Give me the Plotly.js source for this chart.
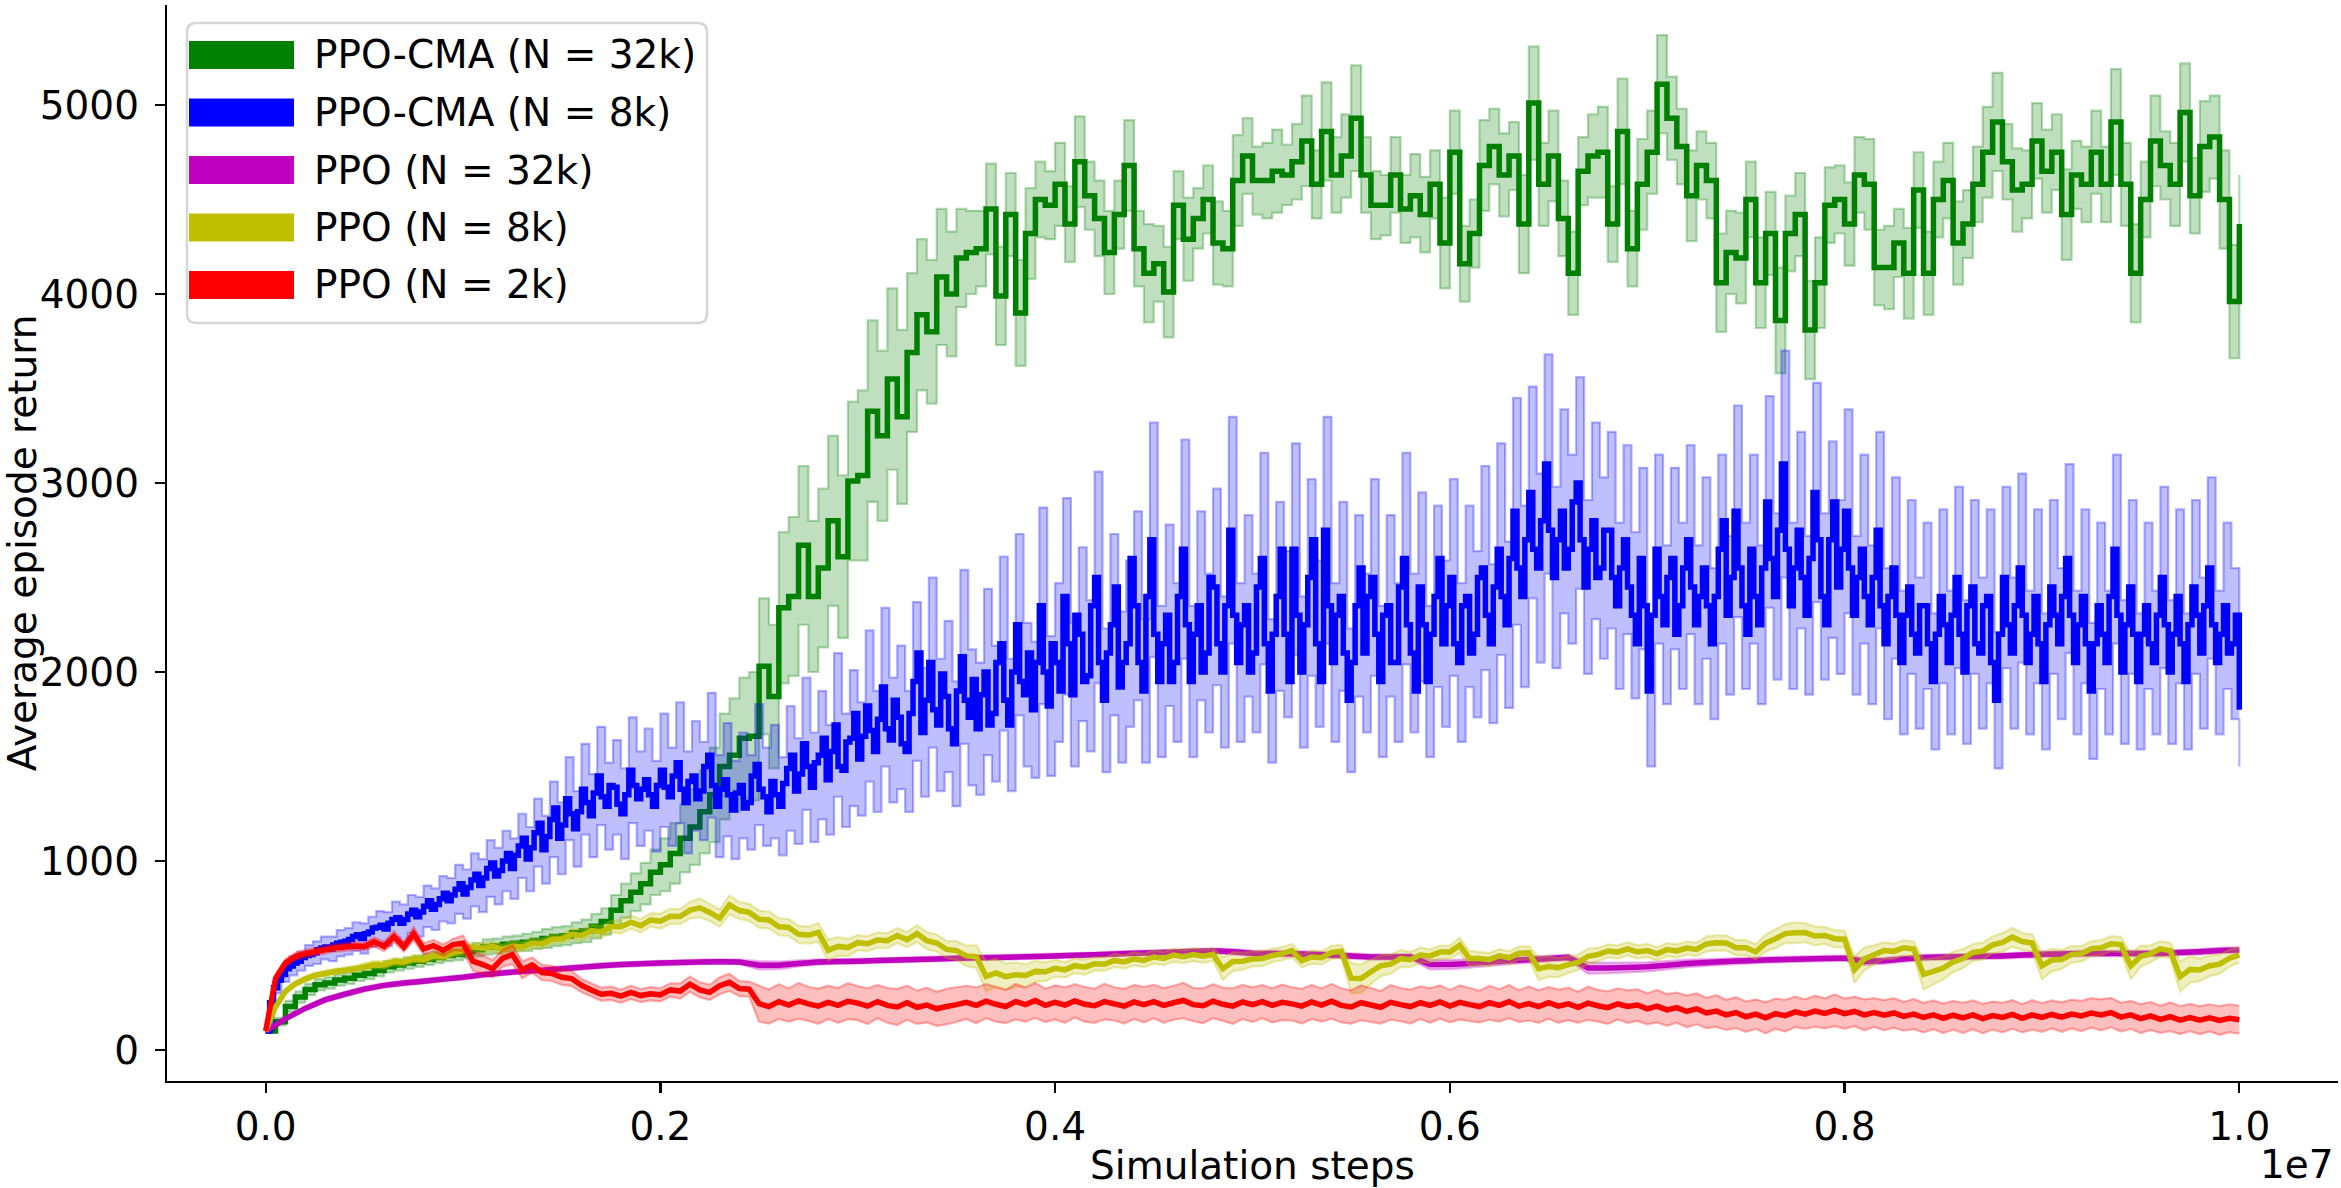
<!DOCTYPE html>
<html>
<head>
<meta charset="utf-8">
<script src="https://cdn.plot.ly/plotly-3.0.1.min.js"></script>
<style>
  html, body { margin: 0; padding: 0; background: #fff; }
  #chart { width: 2341px; height: 1188px; }
</style>
</head>
<body>
<div id="chart"></div>
<script>
const TOTAL_STEPS = 1e7;

const seriesNames = ['PPO-CMA (N = 32k)', 'PPO-CMA (N = 8k)', 'PPO (N = 32k)', 'PPO (N = 8k)', 'PPO (N = 2k)'];

const xTickVals = [0, 2e6, 4e6, 6e6, 8e6, 1e7];
const xTickText = ['0.0', '0.2', '0.4', '0.6', '0.8', '1.0'];
const yTickVals = [0, 1000, 2000, 3000, 4000, 5000];

// PPO-CMA (N = 32k), every 0.005e7 steps
const greenMean = [
  100, 150, 230, 280, 320, 345, 355, 370, 380, 395,
  405, 420, 440, 450, 460, 470, 480, 490, 500, 505,
  520, 530, 545, 550, 560, 565, 570, 580, 590, 600,
  605, 620, 630, 655, 680, 740, 790, 835, 880, 940,
  980, 1040, 1120, 1180, 1260, 1350, 1500, 1560, 1650, 1660,
  2030, 1870, 2340, 2400, 2670, 2400, 2550, 2800, 2610, 3010,
  3040, 3380, 3250, 3550, 3350, 3690, 3890, 3800, 4090, 4000,
  4190, 4220, 4240, 4450, 3990, 4420, 3900, 4320, 4500, 4470,
  4580, 4370, 4700, 4520, 4400, 4220, 4420, 4680, 4240, 4110,
  4160, 4010, 4470, 4290, 4400, 4500, 4270, 4240, 4600, 4730,
  4600, 4600, 4650, 4630, 4700, 4810, 4580, 4860, 4630, 4730,
  4930, 4630, 4470, 4470, 4630, 4450, 4520, 4420, 4580, 4270,
  4750, 4160, 4320, 4680, 4780, 4630, 4730, 4370, 5010, 4580,
  4730, 4400, 4110, 4650, 4730, 4750, 4370, 4860, 4240, 4580,
  4750, 5110, 4930, 4780, 4520, 4680, 4600, 4060, 4220, 4190,
  4500, 4060, 4320, 3860, 4320, 4420, 3810, 4060, 4470, 4500,
  4370, 4630, 4580, 4140, 4140, 4270, 4110, 4550, 4110, 4500,
  4600, 4270, 4370, 4580, 4750, 4910, 4700, 4550, 4580, 4810,
  4650, 4750, 4420, 4630, 4580, 4750, 4580, 4910, 4580, 4110,
  4500, 4810, 4680, 4580, 4960, 4520, 4780, 4830, 4500, 3960,
  4370
];
const greenSpread = [
  5, 20, 30, 30, 30, 30, 30, 30, 30, 30,
  30, 30, 30, 30, 30, 30, 30, 30, 30, 30,
  35, 35, 40, 40, 40, 40, 45, 45, 50, 50,
  50, 55, 60, 65, 70, 80, 90, 100, 110, 120,
  140, 160, 180, 200, 220, 250, 280, 300, 320, 340,
  360, 380, 400, 420, 420, 400, 420, 450, 430, 420,
  450, 480, 450, 480, 460, 420, 400, 380, 360, 330,
  260, 220, 200, 240, 260, 220, 280, 240, 200, 180,
  220, 200, 240, 180, 200, 220, 180, 240, 200, 260,
  200, 240, 180, 220, 160, 180, 220, 200, 240, 200,
  180, 200, 220, 160, 200, 240, 180, 260, 200, 220,
  280, 200, 180, 160, 200, 180, 220, 200, 180, 240,
  220, 200, 180, 240, 200, 220, 180, 260, 300, 220,
  240, 200, 220, 180, 220, 240, 200, 280, 200, 240,
  220, 260, 220, 200, 240, 180, 200, 260, 220, 240,
  200, 240, 220, 280, 200, 220, 260, 240, 200, 180,
  220, 200, 240, 200, 220, 180, 240, 200, 220, 200,
  200, 220, 180, 200, 240, 260, 200, 220, 180, 200,
  220, 200, 240, 180, 200, 220, 200, 280, 220, 260,
  200, 240, 180, 220, 260, 200, 240, 220, 260, 300,
  260
];

// PPO-CMA (N = 8k), every 0.002e7 steps
const blueMean = [
  100, 250, 330, 370, 400, 430, 445, 460, 470, 490, 500, 505, 515, 530, 540, 545, 535, 555, 565, 570,
  575, 585, 600, 610, 590, 615, 625, 645, 650, 660, 640, 670, 690, 700, 670, 690, 720, 740, 705, 730,
  760, 790, 745, 770, 800, 830, 790, 820, 850, 880, 825, 860, 900, 930, 870, 910, 960, 990, 920, 950,
  1000, 1040, 960, 1030, 1080, 1120, 1010, 1070, 1150, 1200, 1060, 1130, 1220, 1280, 1120, 1190, 1330, 1250, 1170, 1260,
  1380, 1310, 1240, 1360, 1450, 1340, 1290, 1400, 1390, 1300, 1250, 1350, 1480, 1400, 1330, 1380, 1430, 1350, 1290, 1400,
  1480, 1390, 1340, 1450, 1520, 1380, 1310, 1420, 1450, 1330, 1370, 1500, 1560, 1400, 1290, 1380, 1430, 1350, 1270, 1360,
  1400, 1280, 1310, 1450, 1510, 1380, 1340, 1260, 1420, 1350, 1290, 1410, 1490, 1560, 1370, 1460, 1620, 1500, 1390, 1520,
  1560, 1650, 1430, 1580, 1720, 1500, 1480, 1630, 1650, 1780, 1540, 1660, 1820, 1690, 1580, 1750, 1920, 1700, 1640, 1850,
  1760, 1620, 1580, 1780, 1950, 2100, 1680, 1850, 2050, 1800, 1720, 1990, 1870, 1700, 1620, 1900, 2080, 1850, 1760, 1960,
  1700, 1880, 2000, 1720, 1780, 2050, 2150, 1850, 1720, 2000, 2250, 1950, 1880, 2100, 1800, 2050, 2350, 2000, 1820, 2150,
  2050, 1900, 2400, 2150, 1880, 2300, 2200, 1950, 1980, 2350, 2500, 2050, 1850, 2100, 2250, 2450, 1920, 2050, 2150, 2600,
  2350, 2050, 1900, 2400, 2700, 2200, 1950, 2150, 2300, 1950, 2050, 2400, 2650, 2250, 1950, 2200, 2350, 2000, 2100, 2500,
  2450, 2150, 2000, 2350, 2750, 2300, 2050, 2250, 2350, 2000, 2100, 2450, 2600, 2150, 1900, 2200, 2400, 2650, 2200, 1950,
  2650, 2300, 2000, 2250, 2500, 2700, 2150, 1950, 2750, 2350, 2050, 2300, 2400, 2100, 1850, 2050, 2350, 2550, 2100, 2400,
  2500, 2200, 1950, 2300, 2350, 2050, 2050, 2450, 2600, 2250, 2100, 1900, 2450, 2250, 1950, 2200, 2400, 2600, 2150, 2350,
  2500, 2150, 2050, 2350, 2400, 2100, 2200, 2500, 2550, 2300, 2150, 2450, 2650, 2400, 2250, 2600, 2850, 2550, 2400, 2700,
  2950, 2650, 2550, 2800, 3100, 2750, 2500, 2700, 2850, 2550, 2650, 2900, 3000, 2700, 2450, 2650, 2800, 2500, 2550, 2750,
  2750, 2500, 2350, 2550, 2700, 2450, 2300, 2150, 2600, 2350, 1900, 2300, 2650, 2400, 2250, 2500, 2600, 2200, 2350, 2550,
  2700, 2450, 2250, 2400, 2550, 2350, 2150, 2400, 2650, 2800, 2300, 2500, 2850, 2550, 2350, 2200, 2650, 2400, 2250, 2550,
  2900, 2600, 2400, 2750, 3100, 2650, 2350, 2550, 2750, 2500, 2300, 2600, 2950, 2700, 2400, 2250, 2700, 2900, 2450, 2650,
  2850, 2550, 2300, 2500, 2650, 2400, 2250, 2500, 2750, 2350, 2150, 2400, 2550, 2300, 2050, 2300, 2450, 2200, 2100, 2350,
  2350, 2150, 1950, 2200, 2400, 2250, 2050, 2300, 2500, 2200, 2000, 2350, 2450, 2150, 2100, 2350, 2400, 2050, 1850, 2200,
  2500, 2250, 2100, 2350, 2550, 2300, 2050, 2200, 2400, 2150, 1950, 2250, 2450, 2300, 2150, 2400, 2600, 2300, 2050, 2250,
  2400, 2150, 1900, 2150, 2350, 2200, 2050, 2400, 2650, 2300, 2000, 2250, 2450, 2200, 1950, 2200, 2350, 2150, 2050, 2300,
  2500, 2250, 2000, 2200, 2400, 2150, 1950, 2250, 2450, 2300, 2100, 2350, 2550, 2250, 2050, 2200, 2350, 2100, 2150, 2300,
  1800
];
// band half-width, every 0.004e7 steps
const blueSpread = [
  5, 30, 40, 50, 50, 55, 60, 60, 65, 70,
  70, 75, 80, 80, 85, 90, 95, 100, 100, 105,
  110, 110, 120, 120, 130, 130, 140, 140, 150, 150,
  160, 160, 170, 170, 180, 180, 200, 190, 220, 200,
  240, 220, 260, 230, 250, 240, 280, 250, 270, 240,
  300, 260, 320, 270, 290, 260, 330, 270, 300, 260,
  280, 250, 320, 260, 300, 260, 330, 280, 350, 290,
  340, 290, 380, 300, 360, 300, 400, 320, 420, 330,
  380, 320, 420, 340, 450, 350, 400, 330, 460, 360,
  350, 440, 360, 460, 350, 480, 380, 360, 520, 370,
  420, 520, 380, 460, 400, 560, 380, 480, 400, 440,
  500, 380, 620, 400, 480, 420, 580, 400, 500, 420,
  520, 400, 600, 420, 480, 420, 560, 380, 500, 440,
  560, 400, 520, 440, 600, 420, 500, 380, 480, 420,
  520, 400, 480, 420, 560, 420, 500, 400, 480, 440,
  520, 420, 480, 440, 540, 420, 560, 440, 600, 480,
  560, 500, 580, 480, 540, 500, 560, 460, 520, 480,
  520, 440, 500, 440, 480, 400, 500, 420, 480, 440,
  500, 420, 480, 400, 500, 420, 560, 440, 500, 420,
  560, 440, 600, 440, 520, 420, 580, 440, 520, 460,
  540, 420, 500, 420, 520, 400, 480, 380, 460, 400,
  440, 360, 460, 380, 480, 380, 460, 400, 460, 360,
  480, 400, 500, 380, 460, 360, 460, 400, 500, 380,
  460, 360, 440, 380, 500, 380, 460, 360, 440, 380,
  480, 380, 460, 360, 460, 400, 480, 380, 440, 400,
  300
];

// PPO (N = 32k), every 0.001e7 steps
const magentaMean = [
  100, 165, 220, 265, 295, 322, 342, 354, 364, 375,
  385, 398, 408, 416, 422, 430, 438, 446, 452, 456,
  460, 463, 466, 467, 466, 448, 448, 458, 465, 468,
  470, 473, 476, 479, 482, 485, 488, 490, 492, 495,
  498, 501, 504, 508, 512, 515, 518, 522, 525, 520,
  512, 510, 509, 506, 502, 497, 492, 492, 494, 452,
  452, 458, 465, 472, 478, 484, 490, 434, 434, 437,
  440, 449, 458, 463, 468, 472, 476, 479, 482, 484,
  486, 468, 472, 482, 490, 492, 494, 496, 498, 502,
  506, 508, 510, 511, 511, 511, 511, 516, 520, 526,
  529
];
const magentaSpread = [
  3, 8, 10, 12, 12, 12, 12, 12, 12, 12,
  12, 12, 12, 12, 12, 12, 12, 12, 12, 12,
  12, 12, 12, 12, 12, 22, 20, 16, 14, 12,
  12, 12, 12, 12, 12, 12, 12, 12, 12, 12,
  12, 12, 12, 12, 12, 12, 12, 12, 12, 14,
  14, 14, 14, 14, 14, 14, 14, 14, 14, 26,
  24, 22, 20, 18, 16, 15, 15, 30, 28, 26,
  24, 22, 20, 18, 16, 15, 14, 14, 14, 14,
  14, 18, 16, 14, 14, 14, 14, 14, 14, 14,
  14, 14, 14, 14, 14, 14, 14, 14, 14, 14,
  14
];

// PPO (N = 8k), every 0.005e7 steps
const yellowMean = [
  100, 229, 310, 350, 375, 395, 405, 415, 422, 430,
  440, 452, 450, 468, 464, 482, 478, 498, 494, 515,
  525, 545, 538, 548, 532, 550, 545, 566, 562, 586,
  588, 612, 606, 632, 626, 652, 652, 676, 658, 688,
  682, 708, 706, 740, 752, 728, 698, 768, 738, 728,
  692, 688, 652, 648, 612, 608, 622, 528, 548, 542,
  568, 562, 582, 578, 606, 584, 616, 578, 566, 532,
  526, 498, 494, 390, 408, 388, 398, 394, 416, 414,
  432, 424, 446, 438, 456, 454, 474, 466, 482, 474,
  492, 484, 502, 494, 505, 496, 506, 430, 468, 470,
  482, 484, 500, 510, 526, 472, 492, 488, 516, 522,
  380, 378, 414, 446, 454, 484, 478, 502, 498, 518,
  518, 554, 484, 484, 478, 498, 488, 512, 514, 430,
  442, 436, 452, 464, 496, 505, 524, 518, 535, 519,
  526, 509, 531, 524, 539, 532, 561, 567, 566, 541,
  541, 519, 566, 589, 616, 620, 621, 603, 606, 589,
  586, 425, 482, 504, 526, 522, 541, 534, 400, 416,
  434, 466, 484, 516, 523, 556, 569, 597, 574, 566,
  445, 476, 479, 506, 509, 536, 541, 562, 558, 445,
  496, 509, 535, 526, 388, 426, 424, 446, 454, 486,
  503
];
const yellowSpread = [
  5, 15, 15, 15, 15, 15, 15, 15, 15, 15,
  20, 20, 20, 20, 20, 20, 20, 20, 20, 20,
  25, 25, 25, 25, 25, 25, 25, 25, 25, 25,
  25, 30, 30, 30, 30, 30, 35, 35, 35, 35,
  40, 40, 40, 45, 50, 45, 45, 50, 45, 45,
  45, 45, 45, 45, 45, 45, 50, 55, 50, 45,
  40, 40, 40, 40, 40, 40, 45, 45, 45, 45,
  50, 55, 60, 80, 75, 70, 65, 60, 55, 50,
  45, 40, 40, 40, 35, 35, 35, 35, 35, 35,
  35, 35, 35, 35, 35, 35, 35, 60, 50, 45,
  40, 40, 35, 35, 35, 35, 35, 35, 35, 35,
  80, 75, 65, 55, 50, 45, 40, 40, 35, 35,
  35, 40, 40, 35, 35, 35, 35, 35, 35, 60,
  55, 50, 45, 40, 40, 35, 35, 35, 35, 35,
  35, 35, 35, 35, 35, 35, 40, 40, 40, 40,
  40, 40, 45, 50, 50, 55, 50, 50, 45, 45,
  45, 70, 60, 50, 45, 40, 40, 40, 80, 70,
  60, 55, 50, 45, 45, 45, 50, 50, 45, 45,
  70, 60, 50, 45, 40, 40, 40, 40, 40, 70,
  55, 45, 40, 40, 80, 70, 60, 55, 50, 45,
  40
];

// PPO (N = 2k), every 0.005e7 steps
const redMean = [
  100, 380, 460, 495, 510, 520, 530, 540, 545, 550,
  548, 572, 548, 600, 545, 615, 535, 552, 528, 558,
  565, 470, 452, 430, 485, 505, 425, 450, 410, 405,
  385, 378, 342, 318, 295, 300, 285, 305, 288, 298,
  292, 318, 312, 348, 318, 305, 340, 358, 325, 322,
  245, 230, 256, 238, 260, 244, 232, 252, 236, 258,
  248, 232, 256, 236, 228, 250, 226, 238, 218, 230,
  240, 252, 236, 258, 242, 230, 256, 240, 262, 236,
  252, 238, 260, 242, 234, 256, 244, 232, 254, 240,
  256, 236, 250, 262, 240, 234, 258, 242, 232, 254,
  240, 256, 236, 252, 244, 232, 254, 238, 258, 236,
  228, 250, 238, 226, 252, 240, 230, 250, 236, 254,
  232, 252, 240, 230, 250, 236, 256, 232, 246, 230,
  250, 232, 244, 226, 248, 234, 224, 244, 230, 238,
  218, 232, 212, 224, 204, 218, 196, 206, 186, 198,
  176, 190, 170, 192, 182, 202, 190, 206, 194, 210,
  192, 204, 186, 198, 184, 196, 178, 190, 172, 186,
  168, 184, 170, 186, 166, 182, 172, 188, 168, 186,
  172, 188, 174, 190, 180, 196, 186, 198, 174, 186,
  166, 180, 162, 176, 158, 172, 158, 170, 156, 168,
  160
];
const redSpread = [
  5, 20, 20, 20, 20, 20, 20, 20, 20, 20,
  20, 25, 25, 30, 25, 35, 30, 30, 30, 30,
  40, 50, 50, 45, 45, 50, 45, 40, 40, 40,
  40, 40, 35, 35, 35, 35, 35, 35, 35, 35,
  35, 35, 40, 40, 40, 40, 45, 45, 40, 40,
  95, 90, 92, 88, 95, 90, 93, 88, 92, 95,
  90, 94, 88, 92, 96, 90, 88, 92, 90, 94,
  92, 88, 95, 90, 92, 88, 94, 90, 92, 88,
  90, 94, 88, 92, 90, 95, 88, 92, 90, 94,
  88, 92, 90, 94, 88, 92, 90, 88, 94, 90,
  92, 88, 90, 94, 88, 92, 90, 88, 92, 90,
  88, 92, 90, 86, 92, 88, 90, 86, 92, 88,
  86, 90, 88, 84, 90, 86, 88, 84, 90, 86,
  84, 88, 86, 82, 88, 84, 86, 82, 86, 84,
  82, 86, 84, 80, 84, 82, 80, 84, 80, 82,
  80, 78, 82, 80, 84, 80, 78, 82, 80, 84,
  80, 78, 82, 76, 80, 78, 76, 80, 78, 76,
  78, 76, 80, 76, 78, 74, 78, 76, 74, 78,
  76, 74, 78, 76, 80, 78, 82, 78, 76, 74,
  76, 74, 72, 76, 74, 72, 74, 72, 76, 74,
  74
];

// page geometry of the axes box, in pixels
const PLOT = { left: 167, top: 5, width: 2171, height: 1076 };
const FONT = 'DejaVu Sans, Verdana, sans-serif';

class Chart {
    stepsFor(values) {
        let xs = [];
        for (let i = 0; i < values.length; i++) {
            xs.push(i * TOTAL_STEPS / (values.length - 1));
        }
        return xs;
    }
    band(values, spread, rgb, shape) {
        // spread may be recorded more coarsely than the mean: take the mean at the same steps
        let every = (values.length - 1) / (spread.length - 1);
        let base = values.filter((v, i) => i % every === 0);
        let xs = this.stepsFor(base);
        let lower = base.map((v, i) => v - spread[i]);
        let upper = base.map((v, i) => v + spread[i]);
        let edge = { color: 'rgba(' + rgb + ',0.3)', width: 2.2, shape: shape, simplify: false };
        return [
            { x: xs, y: lower, mode: 'lines', line: edge, hoverinfo: 'skip', showlegend: false },
            { x: xs, y: upper, mode: 'lines', line: edge, fill: 'tonexty',
              fillcolor: 'rgba(' + rgb + ',0.25)', hoverinfo: 'skip', showlegend: false }
        ];
    }
    mean(values, name, rgb, shape) {
        return {
            x: this.stepsFor(values),
            y: values,
            mode: 'lines',
            name: name,
            line: { color: 'rgb(' + rgb + ')', width: 5.5, shape: shape, simplify: false },
            showlegend: false
        };
    }
    px(x) { return (x - PLOT.left) / PLOT.width; }
    py(y) { return (PLOT.top + PLOT.height - y) / PLOT.height; }

    legend(colors) {
        // hand made legend box, matplotlib style
        let shapes = [];
        let notes = [];
        let x0 = this.px(187), x1 = this.px(707), y0 = this.py(23), y1 = this.py(323);
        let rx = 9 / PLOT.width, ry = 9 / PLOT.height;
        let path = 'M ' + (x0 + rx) + ',' + y0 +
            ' L ' + (x1 - rx) + ',' + y0 + ' Q ' + x1 + ',' + y0 + ' ' + x1 + ',' + (y0 - ry) +
            ' L ' + x1 + ',' + (y1 + ry) + ' Q ' + x1 + ',' + y1 + ' ' + (x1 - rx) + ',' + y1 +
            ' L ' + (x0 + rx) + ',' + y1 + ' Q ' + x0 + ',' + y1 + ' ' + x0 + ',' + (y1 + ry) +
            ' L ' + x0 + ',' + (y0 - ry) + ' Q ' + x0 + ',' + y0 + ' ' + (x0 + rx) + ',' + y0 + ' Z';
        shapes.push({ type: 'path', xref: 'paper', yref: 'paper', path: path,
            fillcolor: 'rgba(255,255,255,0.8)', line: { color: 'rgba(204,204,204,0.8)', width: 2.5 } });
        for (let k = 0; k < seriesNames.length; k++) {
            let cy = 55 + 57.5 * k;
            shapes.push({ type: 'rect', xref: 'paper', yref: 'paper',
                x0: this.px(189), x1: this.px(294), y0: this.py(cy - 14), y1: this.py(cy + 14),
                fillcolor: 'rgb(' + colors[k] + ')', line: { width: 0 } });
            notes.push({ xref: 'paper', yref: 'paper', x: this.px(312), y: this.py(cy),
                xanchor: 'left', yanchor: 'middle', showarrow: false, text: seriesNames[k],
                font: { family: FONT, size: 39, color: '#000' } });
        }
        return [shapes, notes];
    }

    draw(id) {
        let colors = ['0,128,0', '0,0,255', '191,0,191', '191,191,0', '255,0,0'];
        let means = [greenMean, blueMean, magentaMean, yellowMean, redMean];
        let spreads = [greenSpread, blueSpread, magentaSpread, yellowSpread, redSpread];
        let shapesOf = ['hv', 'hv', 'linear', 'linear', 'linear'];
        let traces = [];
        for (let k = 0; k < means.length; k++) {
            this.band(means[k], spreads[k], colors[k], shapesOf[k]).forEach(t => traces.push(t));
            traces.push(this.mean(means[k], seriesNames[k], colors[k], shapesOf[k]));
        }
        let [shapes, notes] = this.legend(colors);
        notes.push({ xref: 'paper', yref: 'paper', x: this.px(2336), y: this.py(1164),
            xanchor: 'right', yanchor: 'middle', showarrow: false, text: '1e7',
            font: { family: FONT, size: 39, color: '#000' } });

        let axisStyle = {
            showline: true, linecolor: '#000', linewidth: 2.2,
            ticks: 'outside', ticklen: 10, tickwidth: 2.2, tickcolor: '#000',
            showgrid: false, zeroline: false, automargin: false,
            tickfont: { family: FONT, size: 39, color: '#000' }
        };
        let layout = {
            width: 2341, height: 1188,
            margin: { l: PLOT.left, r: 2341 - PLOT.left - PLOT.width, t: PLOT.top, b: 1188 - PLOT.top - PLOT.height },
            paper_bgcolor: '#fff', plot_bgcolor: '#fff',
            showlegend: false,
            font: { family: FONT, size: 39, color: '#000' },
            xaxis: Object.assign({}, axisStyle, {
                range: [-0.05 * TOTAL_STEPS, 1.05 * TOTAL_STEPS],
                tickmode: 'array', tickvals: xTickVals, ticktext: xTickText,
                title: { text: 'Simulation steps', standoff: 4, font: { family: FONT, size: 39, color: '#000' } }
            }),
            yaxis: Object.assign({}, axisStyle, {
                range: [-164, 5529],
                tickmode: 'array', tickvals: yTickVals,
                ticklabelstandoff: 8,
                title: { text: 'Average episode return', standoff: 14, font: { family: FONT, size: 39, color: '#000' } }
            }),
            shapes: shapes,
            annotations: notes
        };
        Plotly.newPlot(id, traces, layout, { staticPlot: true });
    }
}

new Chart().draw('chart');
</script>
</body>
</html>
